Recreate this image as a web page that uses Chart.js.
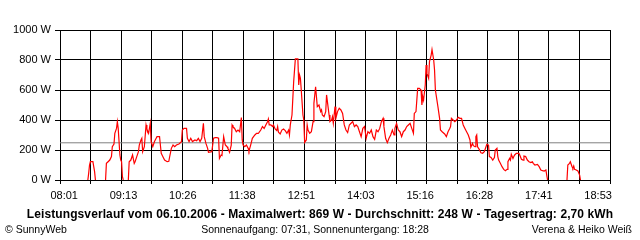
<!DOCTYPE html>
<html>
<head>
<meta charset="utf-8">
<script src="https://cdn.jsdelivr.net/npm/chart.js@4/dist/chart.umd.min.js"></script>
<style>
  html, body { margin: 0; padding: 0; background: #fff; }
  #wrap { position: relative; width: 640px; height: 240px; }
  .cap {
    position: absolute;
    font-family: "Liberation Sans", Arial, sans-serif;
    font-size: 10.5px;
    line-height: 13px;
    white-space: nowrap;
    color: #000;
  }
  #title { left: 0; width: 640px; top: 208px; text-align: center; font-weight: bold; font-size: 12px; letter-spacing: 0.1px; }
  #footLeft { left: 5px; top: 223px; }
  #footCenter { left: 0; width: 630px; top: 223px; text-align: center; }
  #footRight { right: 8px; top: 223px; }
</style>
</head>
<body>
<div id="wrap">
  <canvas id="chart" width="640" height="240"></canvas>
  <div class="cap" id="title"></div>
  <div class="cap" id="footLeft">© SunnyWeb</div>
  <div class="cap" id="footCenter"></div>
  <div class="cap" id="footRight">Verena &amp; Heiko Weiß</div>
</div>
<script>
const day = "06.10.2006";
const dayYield = "2,70 kWh";
const sunrise = "07:31";
const sunset = "18:28";
const average = 248;

const axisStart = "08:01";
const axisEnd = "18:53";
const tickLabels = ["08:01", "09:13", "10:26", "11:38", "12:51", "14:03", "15:16", "16:28", "17:41", "18:53"];
const yTicks = [0, 200, 400, 600, 800, 1000];

// one line per hour, times and watts line up; null = no output (line break)
const times = [
  "08:34","08:35","08:36","08:37","08:40","08:41","08:42","08:43","08:50","08:55","08:56","08:58",
  "09:00","09:02","09:03","09:05","09:06","09:08","09:09","09:10","09:12","09:13","09:14","09:15","09:16","09:19","09:22","09:23","09:25","09:27","09:29","09:30","09:32","09:34","09:35","09:37","09:38","09:39","09:41","09:43","09:44","09:46","09:48","09:49","09:51","09:53","09:55","09:56","09:59",
  "10:00","10:01","10:03","10:05","10:08","10:10","10:11","10:13","10:15","10:17","10:19","10:22","10:25","10:26","10:28","10:31","10:32","10:34","10:36","10:38","10:41","10:43","10:45","10:47","10:49","10:51","10:52","10:54","10:56","10:57",
  "11:01","11:03","11:05","11:07","11:09","11:10","11:12","11:13","11:15","11:17","11:19","11:20","11:22","11:24","11:25","11:26","11:28","11:30","11:32","11:34","11:36","11:37","11:38","11:39","11:40","11:42","11:44","11:45","11:47","11:49","11:52","11:54","11:56","11:57","11:59",
  "12:01","12:03","12:05","12:07","12:08","12:09","12:11","12:13","12:14","12:16","12:18","12:19","12:20","12:22","12:24","12:26","12:28","12:30","12:32","12:33","12:34","12:36","12:37","12:38","12:40","12:43","12:44","12:45","12:46","12:47","12:49","12:50","12:51","12:53","12:54","12:55","12:57","12:59",
  "13:01","13:02","13:04","13:06","13:08","13:10","13:11","13:12","13:14","13:16","13:17","13:19","13:20","13:21","13:23","13:24","13:25","13:27","13:28","13:30","13:32","13:34","13:36","13:38","13:40","13:42","13:44","13:46","13:48","13:50","13:52","13:54","13:56","13:58",
  "14:00","14:02","14:04","14:06","14:08","14:10","14:12","14:14","14:16","14:18","14:20","14:22","14:24","14:25","14:27","14:29","14:31","14:33","14:35","14:37","14:38","14:40","14:42","14:44","14:46","14:48","14:50","14:52","14:54","14:56","14:58",
  "15:00","15:01","15:03","15:04","15:05","15:07","15:09","15:10","15:11","15:12","15:14","15:15","15:16","15:18","15:19","15:21","15:22","15:24","15:25","15:26","15:29","15:31","15:32","15:34","15:37","15:39","15:41","15:43","15:44","15:45","15:47","15:49","15:51","15:53","15:55","15:57","15:59",
  "16:01","16:03","16:05","16:07","16:08","16:10","16:11","16:13","16:14","16:15","16:16","16:18","16:20","16:22","16:24","16:26","16:27","16:29","16:30","16:32","16:34","16:36","16:37","16:39","16:40","16:41","16:43","16:45","16:47","16:49","16:51","16:52","16:54","16:55","16:56","16:58","16:59",
  "17:00","17:02","17:05","17:06","17:08","17:10","17:11","17:13","17:15","17:17","17:19","17:21","17:22","17:24","17:27","17:29","17:31","17:33","17:35","17:37","17:38","17:39","17:50",
  "18:02","18:03","18:05","18:06","18:08","18:09","18:10","18:11","18:13","18:15","18:17","18:18",
];
const watts = [
  0,44,100,122,122,89,56,0,null,0,111,122,
  133,156,222,240,311,344,389,344,167,133,122,22,0,null,0,122,133,167,111,122,156,189,233,267,278,189,222,367,340,311,378,256,222,256,278,289,289,
  233,178,155,133,122,125,155,211,233,222,233,240,256,333,344,344,278,256,278,256,267,262,278,256,278,378,289,244,211,184,
  189,278,282,282,278,144,167,164,289,233,222,211,184,233,367,356,344,322,333,322,416,267,233,233,222,233,211,193,233,278,300,311,311,318,333,
  356,344,367,389,407,367,367,356,367,340,329,356,318,307,333,340,329,311,333,300,367,433,544,655,807,807,633,700,678,600,433,400,251,267,367,333,311,322,
  389,511,622,489,500,456,467,433,422,456,567,478,433,389,400,422,378,489,411,456,478,467,444,367,333,316,367,378,389,356,367,356,322,289,
  344,356,278,322,311,333,289,271,333,322,344,389,411,356,278,249,278,300,333,300,344,378,333,322,289,322,333,356,367,378,344,
  311,444,456,533,611,611,600,500,556,533,633,767,711,678,789,833,869,800,733,600,489,411,333,322,307,289,322,344,356,411,400,389,400,418,411,411,367,
  344,322,300,267,218,244,229,222,289,300,222,204,182,178,189,222,238,233,156,150,133,150,200,211,156,133,111,89,71,62,71,122,144,133,171,144,156,
  167,178,178,167,138,133,160,156,133,122,116,122,111,100,104,89,67,62,60,67,33,0,null,
  0,100,111,122,89,78,93,71,67,60,33,0,
];

function toMinutes(t) {
  const [h, m] = t.split(":").map(Number);
  return h * 60 + m;
}

const xMin = toMinutes(axisStart);
const xMax = toMinutes(axisEnd);
const gridSteps = 18;

const peak = Math.max(...watts.filter(v => v !== null));
document.getElementById("title").textContent =
  "Leistungsverlauf vom " + day + " - Maximalwert: " + peak + " W - Durchschnitt: " + average +
  " W - Tagesertrag: " + dayYield;
document.getElementById("footCenter").textContent =
  "Sonnenaufgang: " + sunrise + ", Sonnenuntergang: " + sunset;

Chart.defaults.font.family = '"Liberation Sans", Arial, sans-serif';
Chart.defaults.font.size = 11;
Chart.defaults.color = "#000";

new Chart(document.getElementById("chart"), {
  type: "line",
  data: {
    datasets: [
      {
        data: times.map((t, i) => ({ x: toMinutes(t), y: watts[i] })),
        borderColor: "#ff0000",
        borderWidth: 1.2,
        pointRadius: 0,
        tension: 0,
        spanGaps: false,
      },
      {
        data: [{ x: xMin, y: average }, { x: xMax, y: average }],
        borderColor: "#808080",
        borderWidth: 1,
        pointRadius: 0,
      },
    ],
  },
  options: {
    responsive: false,
    animation: false,
    devicePixelRatio: 1,
    layout: { padding: { top: 30, right: 30, bottom: 36, left: 0 } },
    plugins: { legend: { display: false }, tooltip: { enabled: false } },
    scales: {
      x: {
        type: "linear",
        position: "bottom",
        weight: 0,
        min: xMin,
        max: xMax,
        afterBuildTicks: s => {
          s.ticks = [];
          for (let i = 0; i <= gridSteps; i++) s.ticks.push({ value: xMin + (xMax - xMin) * i / gridSteps });
        },
        afterFit: s => { s.height = 4; },
        grid: { color: "#000", lineWidth: 1, tickLength: 4 },
        border: { display: true, color: "#000" },
        ticks: { display: false },
      },
      x2: {
        type: "linear",
        position: "bottom",
        weight: 1,
        min: -0.07,
        max: 9.2,
        afterBuildTicks: s => { s.ticks = tickLabels.map((_, i) => ({ value: i })); },
        afterFit: s => { s.height = 20; },
        grid: { display: false, drawTicks: false },
        border: { display: false },
        ticks: {
          padding: 5,
          autoSkip: false,
          maxRotation: 0,
          callback: v => tickLabels[v],
        },
      },
      y: {
        min: 0,
        max: 1000,
        afterBuildTicks: s => { s.ticks = yTicks.map(v => ({ value: v })); },
        afterFit: s => { s.width = 60; },
        grid: { color: "#000", lineWidth: 1, tickLength: 5 },
        border: { display: true, color: "#000" },
        ticks: { padding: 4, callback: v => v + " W" },
      },
    },
  },
});
</script>
</body>
</html>
